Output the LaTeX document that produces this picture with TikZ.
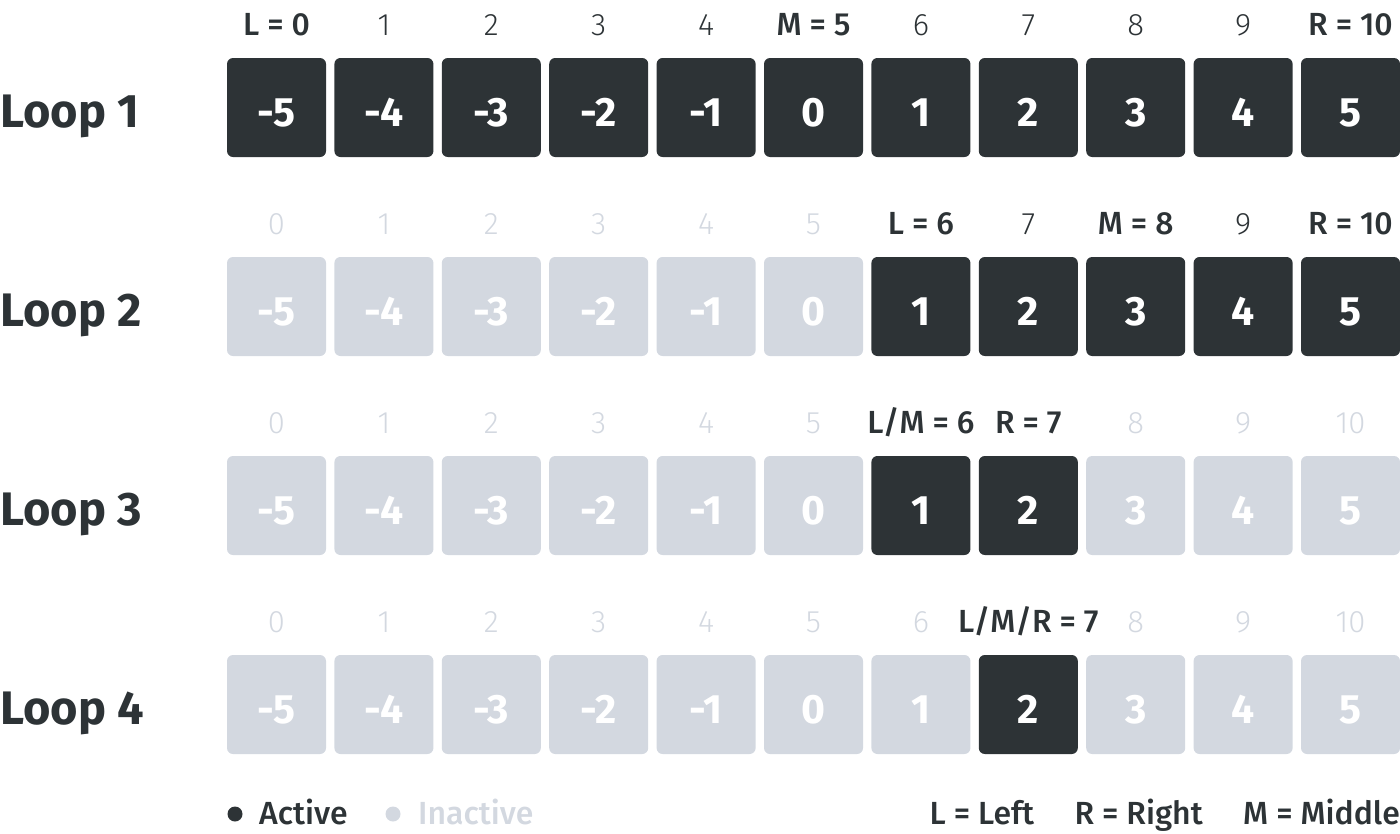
\documentclass[tikz,border=0pt]{standalone}
\usepackage{fontspec}
\setmainfont{Fira Sans}
\newfontfamily\thinfont{Fira Sans Light}
\newfontfamily\medfont{Fira Sans Medium}
\usetikzlibrary{positioning}
\definecolor{slate}{RGB}{45,51,54}
\definecolor{mist}{RGB}{211,216,224}
% key labels above the cells: \setkey{loop}{column}{text}
\newcommand\setkey[3]{\expandafter\def\csname kl-#1-#2\endcsname{#3}}
\setkey{1}{0}{L = 0}\setkey{1}{5}{M = 5}\setkey{1}{10}{R = 10}
\setkey{2}{6}{L = 6}\setkey{2}{8}{M = 8}\setkey{2}{10}{R = 10}
\setkey{3}{6}{L/M = 6}\setkey{3}{7}{R = 7}
\setkey{4}{7}{L/M/R = 7}
\begin{document}
\begin{tikzpicture}[x=1pt,y=-1pt,
  cell/.style={rounded corners=6pt,minimum size=99pt,inner sep=0pt,text height=37pt,text depth=0pt,text=white,font=\fontsize{41}{41}\selectfont\bfseries},
  on/.style={cell,fill=slate},
  off/.style={cell,fill=mist},
  idx/.style={anchor=base,inner sep=0pt,font=\fontsize{31}{31}\thinfont},
  key/.style={anchor=base,inner sep=0pt,text=slate,font=\fontsize{32}{32}\medfont},
  looplabel/.style={anchor=base west,inner sep=0pt,text=slate,font=\fontsize{47}{47}\selectfont\bfseries},
  legend/.style={inner sep=0pt,font=\fontsize{32}{32}\medfont},
  dot/.style={circle,inner sep=0pt,minimum size=15pt}]
\useasboundingbox (0,0) rectangle (1400,833);
% rows of cells
\foreach \r/\lo/\hi in {1/0/10,2/6/10,3/6/7,4/7/7}{
  \node[looplabel] (loop\r) at (0,{127+199*(\r-1)}) {Loop \r};
  \foreach \c in {0,...,10}{
    \pgfmathtruncatemacro\v{\c-5}
    \pgfmathtruncatemacro\act{(\c>=\lo)&&(\c<=\hi)}
    \ifnum\act=1 \def\st{on}\def\tc{slate}\else\def\st{off}\def\tc{mist}\fi
    \node[\st] (b\r-\c) at ({276.5+107.4*\c},{107.5+199*(\r-1)}) {\v};
    % index above the cell
    \ifcsname kl-\r-\c\endcsname
      \node[key] (i\r-\c) at ([yshift=22pt]b\r-\c.north) {\csname kl-\r-\c\endcsname};
    \else
      \node[idx,text=\tc] (i\r-\c) at ([yshift=22pt]b\r-\c.north) {\c};
    \fi
  }
}
% legend
\node[dot,fill=slate] (dact) at (235,814) {};
\node[legend,anchor=base west,text=slate] (lact) at (259,824) {Active};
\node[dot,fill=mist] (dina) at (393,814) {};
\node[legend,anchor=base west,text=mist] (lina) at (418,824) {Inactive};
\node[legend,anchor=base east,text=slate] (lmid) at (1400,824) {M = Middle};
\node[legend,text=slate,base left=40pt of lmid] (lright) {R = Right};
\node[legend,text=slate,base left=40pt of lright] (lleft) {L = Left};
\end{tikzpicture}
\end{document}
